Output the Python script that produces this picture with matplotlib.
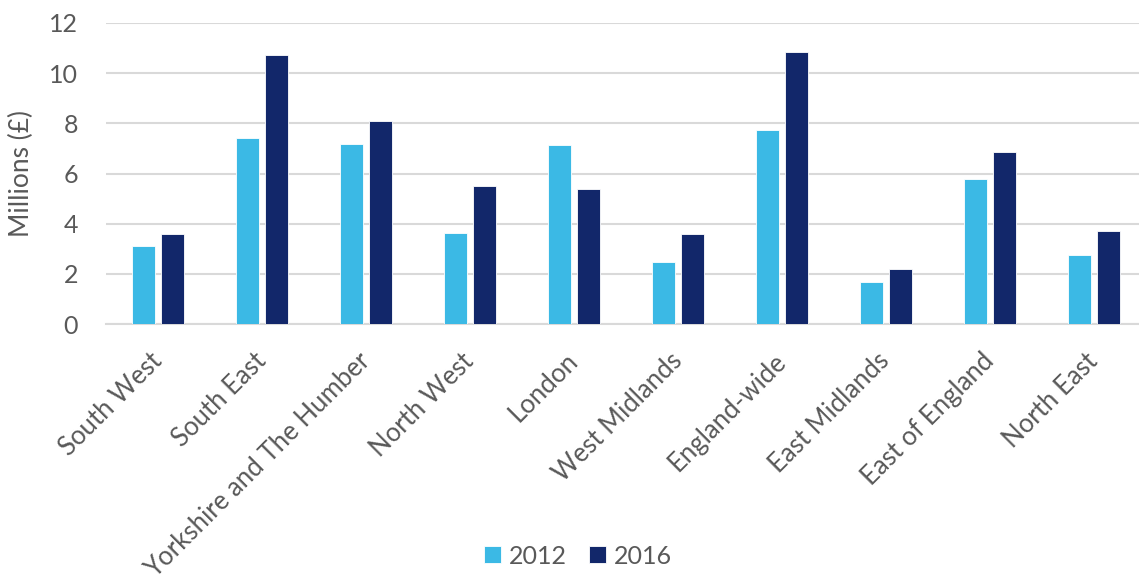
import matplotlib
matplotlib.use("Agg")
import matplotlib.pyplot as plt
import numpy as np

categories = ["South West", "South East", "Yorkshire and The Humber", "North West",
              "London", "West Midlands", "England-wide", "East Midlands",
              "East of England", "North East"]
values_2012 = [3.11, 7.42, 7.18, 3.64, 7.12, 2.46, 7.72, 1.67, 5.77, 2.76]
values_2016 = [3.60, 10.73, 8.08, 5.50, 5.37, 3.58, 10.83, 2.18, 6.86, 3.69]
series_labels = ["2012", "2016"]
yticks = [0, 2, 4, 6, 8, 10, 12]

plt.rcParams['font.family'] = ['Lato', 'DejaVu Sans']
W, H = 1139, 585
fig = plt.figure(figsize=(W / 100, H / 100), dpi=100)
ax = fig.add_axes([106 / W, 1 - 324 / H, 1040 / W, 301 / H])

x = np.arange(len(categories))
bw = 0.225
c1, c2 = "#3BB9E5", "#12276A"
ax.bar(x - 0.142, values_2012, bw, color=c1, edgecolor="white", linewidth=0.6,
       label=series_labels[0], zorder=3)
ax.bar(x + 0.142, values_2016, bw, color=c2, edgecolor="white", linewidth=0.6,
       label=series_labels[1], zorder=3)

grey = "#595959"
ax.set_xlim(-0.5, len(categories) - 0.5)
ax.set_ylim(0, 12)
ax.set_yticks(yticks)
ax.grid(axis='y', color="#D9D9D9", linewidth=1.5, zorder=0)
for s in ["top", "right", "left"]:
    ax.spines[s].set_visible(False)
ax.spines["bottom"].set_color("#D9D9D9")
ax.spines["bottom"].set_linewidth(1.5)
ax.tick_params(axis='both', length=0, colors=grey, labelsize=18)
ax.tick_params(axis='y', pad=20)
ax.set_xticks(x)
ax.set_xticklabels(categories, rotation=45, ha='right', va='center',
                   rotation_mode='anchor', fontsize=18.5, color=grey)
ax.tick_params(axis='x', pad=24)
ax.set_ylabel("Millions (£)", fontsize=19, color=grey)
ax.yaxis.set_label_coords(-0.069, 0.5)

fig.legend(loc='lower center', bbox_to_anchor=(0.5075, 0.0), ncol=2, frameon=False,
           fontsize=18, handlelength=0.68, handleheight=0.68, handletextpad=0.3,
           columnspacing=0.9, labelcolor=grey, borderaxespad=0.3)

fig.savefig("out.png", dpi=100)
